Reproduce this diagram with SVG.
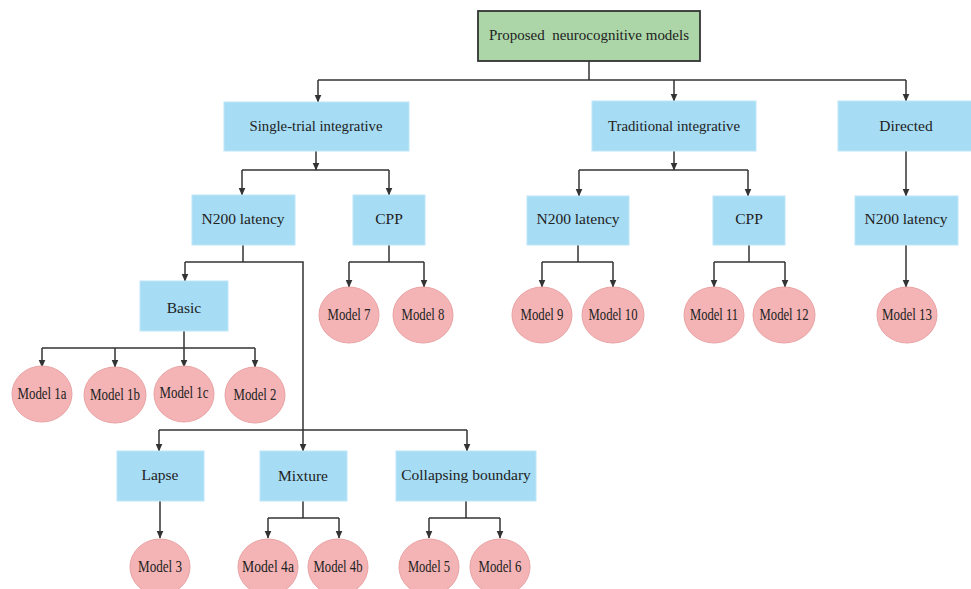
<svg xmlns="http://www.w3.org/2000/svg" width="971" height="589" viewBox="0 0 971 589">
<style>
.box{fill:#a6ddf5;stroke:#bfe6f7;stroke-width:1}
.root{fill:#acd6a8;stroke:#333;stroke-width:1.8}
.model{fill:#f4b4b5;stroke:#e9a2a4;stroke-width:1}
text{font-family:"Liberation Serif","Times New Roman",serif;font-size:15.5px;fill:#222;text-anchor:middle}
.m{font-size:17px}
.c{fill:none;stroke:#333;stroke-width:1.5}
.a{marker-end:url(#ah)}
</style>
<defs>
<marker id="ah" markerUnits="userSpaceOnUse" markerWidth="8" markerHeight="8" refX="7.5" refY="4" orient="auto">
<path d="M0,0.5 L8,4 L0,7.5 z" fill="#333"/>
</marker>
</defs>
<g id="connectors">
<path class="c" d="M589,61 V80 M318,80 H906"/>
<path class="c a" d="M318,80 V102"/>
<path class="c a" d="M674,80 V101"/>
<path class="c a" d="M906,80 V101"/>
<path class="c a" d="M316,151 V170"/>
<path class="c" d="M242,170 H389"/>
<path class="c a" d="M242,170 V195"/>
<path class="c a" d="M389,170 V195"/>
<path class="c a" d="M674,151 V170"/>
<path class="c" d="M579,170 H748"/>
<path class="c a" d="M579,170 V196"/>
<path class="c a" d="M748,170 V196"/>
<path class="c a" d="M906,151 V196"/>
<path class="c" d="M243,245 V262 M185,262 H303 V430 M159,430 H467"/>
<path class="c a" d="M185,262 V281"/>
<path class="c" d="M184,331 V348 M42,348 H255"/>
<path class="c a" d="M42,348 V367"/>
<path class="c a" d="M115,348 V367"/>
<path class="c a" d="M184,348 V367"/>
<path class="c a" d="M255,348 V367"/>
<path class="c a" d="M159,430 V451"/>
<path class="c a" d="M303,430 V451"/>
<path class="c a" d="M467,430 V451"/>
<path class="c a" d="M160,501 V538"/>
<path class="c" d="M303,501 V518 M268,518 H339"/>
<path class="c a" d="M268,518 V538"/>
<path class="c a" d="M339,518 V538"/>
<path class="c" d="M466,501 V518 M429,518 H500"/>
<path class="c a" d="M429,518 V538"/>
<path class="c a" d="M500,518 V538"/>
<path class="c" d="M389,245 V262 M349,262 H424"/>
<path class="c a" d="M349,262 V287"/>
<path class="c a" d="M424,262 V287"/>
<path class="c" d="M578,245 V262 M542,262 H613"/>
<path class="c a" d="M542,262 V287"/>
<path class="c a" d="M613,262 V287"/>
<path class="c" d="M749,245 V262 M714,262 H785"/>
<path class="c a" d="M714,262 V287"/>
<path class="c a" d="M785,262 V287"/>
<path class="c a" d="M906,245 V287"/>
</g>
<g id="root"><rect class="root" x="478" y="11" width="222" height="50"/><text x="589" y="40" textLength="200" lengthAdjust="spacingAndGlyphs">Proposed&#160; neurocognitive models</text></g>
<g id="single"><rect class="box" x="224" y="102" width="185" height="49"/><text x="316" y="131" textLength="133" lengthAdjust="spacingAndGlyphs">Single-trial integrative</text></g>
<g id="traditional"><rect class="box" x="592" y="101" width="164" height="50"/><text x="674" y="131" textLength="132" lengthAdjust="spacingAndGlyphs">Traditional integrative</text></g>
<g id="directed"><rect class="box" x="838" y="101" width="136" height="50"/><text x="906" y="131">Directed</text></g>
<g id="st-n200"><rect class="box" x="192" y="195" width="103" height="50"/><text x="243" y="224">N200 latency</text></g>
<g id="st-cpp"><rect class="box" x="353" y="195" width="72" height="50"/><text x="389" y="224">CPP</text></g>
<g id="tr-n200"><rect class="box" x="527" y="196" width="102" height="49"/><text x="578" y="224">N200 latency</text></g>
<g id="tr-cpp"><rect class="box" x="713" y="196" width="72" height="49"/><text x="749" y="224">CPP</text></g>
<g id="di-n200"><rect class="box" x="855" y="196" width="103" height="49"/><text x="906" y="224">N200 latency</text></g>
<g id="basic"><rect class="box" x="140" y="281" width="88" height="50"/><text x="184" y="313">Basic</text></g>
<g id="lapse"><rect class="box" x="117" y="451" width="87" height="50"/><text x="160" y="480">Lapse</text></g>
<g id="mixture"><rect class="box" x="260" y="451" width="87" height="50"/><text x="303" y="481">Mixture</text></g>
<g id="collapsing"><rect class="box" x="396" y="451" width="140" height="50"/><text x="466" y="480">Collapsing boundary</text></g>
<g id="m1a"><ellipse class="model" cx="42" cy="394" rx="30" ry="28"/><text class="m" x="42" y="399" textLength="49" lengthAdjust="spacingAndGlyphs">Model 1a</text></g>
<g id="m1b"><ellipse class="model" cx="115" cy="395" rx="31" ry="28"/><text class="m" x="115" y="400" textLength="50" lengthAdjust="spacingAndGlyphs">Model 1b</text></g>
<g id="m1c"><ellipse class="model" cx="184" cy="394" rx="30" ry="28"/><text class="m" x="184" y="398" textLength="49" lengthAdjust="spacingAndGlyphs">Model 1c</text></g>
<g id="m2"><ellipse class="model" cx="255" cy="395" rx="30" ry="28"/><text class="m" x="255" y="400" textLength="43" lengthAdjust="spacingAndGlyphs">Model 2</text></g>
<g id="m3"><ellipse class="model" cx="160" cy="567" rx="30" ry="28"/><text class="m" x="160" y="572" textLength="44" lengthAdjust="spacingAndGlyphs">Model 3</text></g>
<g id="m4a"><ellipse class="model" cx="268" cy="567" rx="30" ry="28"/><text class="m" x="268" y="572" textLength="52" lengthAdjust="spacingAndGlyphs">Model 4a</text></g>
<g id="m4b"><ellipse class="model" cx="338" cy="567" rx="30" ry="28"/><text class="m" x="338" y="572" textLength="49" lengthAdjust="spacingAndGlyphs">Model 4b</text></g>
<g id="m5"><ellipse class="model" cx="429" cy="567" rx="30" ry="28"/><text class="m" x="429" y="572" textLength="42" lengthAdjust="spacingAndGlyphs">Model 5</text></g>
<g id="m6"><ellipse class="model" cx="500" cy="567" rx="30" ry="28"/><text class="m" x="500" y="572" textLength="43" lengthAdjust="spacingAndGlyphs">Model 6</text></g>
<g id="m7"><ellipse class="model" cx="349" cy="315" rx="30" ry="28"/><text class="m" x="349" y="320" textLength="43" lengthAdjust="spacingAndGlyphs">Model 7</text></g>
<g id="m8"><ellipse class="model" cx="423" cy="315" rx="30" ry="28"/><text class="m" x="423" y="320" textLength="43" lengthAdjust="spacingAndGlyphs">Model 8</text></g>
<g id="m9"><ellipse class="model" cx="542" cy="315" rx="30" ry="28"/><text class="m" x="542" y="320" textLength="43" lengthAdjust="spacingAndGlyphs">Model 9</text></g>
<g id="m10"><ellipse class="model" cx="613" cy="315" rx="31" ry="28"/><text class="m" x="613" y="320" textLength="49" lengthAdjust="spacingAndGlyphs">Model 10</text></g>
<g id="m11"><ellipse class="model" cx="714" cy="315" rx="30" ry="28"/><text class="m" x="714" y="320" textLength="48" lengthAdjust="spacingAndGlyphs">Model 11</text></g>
<g id="m12"><ellipse class="model" cx="784" cy="315" rx="31" ry="28"/><text class="m" x="784" y="320" textLength="49" lengthAdjust="spacingAndGlyphs">Model 12</text></g>
<g id="m13"><ellipse class="model" cx="907" cy="315" rx="30" ry="28"/><text class="m" x="907" y="320" textLength="50" lengthAdjust="spacingAndGlyphs">Model 13</text></g>
</svg>
